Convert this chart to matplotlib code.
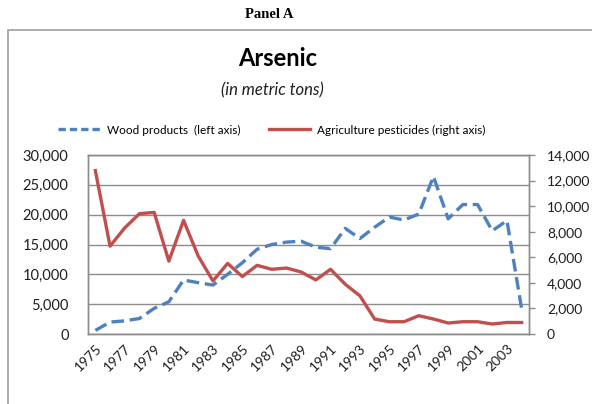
import matplotlib
matplotlib.use("Agg")
import matplotlib.pyplot as plt
from matplotlib.lines import Line2D
from matplotlib.patches import Rectangle
import numpy as np

plt.rcParams['font.family'] = ['Lato', 'DejaVu Sans']

# ── Colors ──
C_BLUE = '#4F81BD'
C_RED = '#C0504D'
C_GRID = '#8C8C8C'
C_TEXT = '#1F1F1F'

# ── Data ──
years = list(range(1975, 2005))
wood_products = [600, 2000, 2200, 2600, 4300, 5400, 9050, 8600, 8200, 10000,
                 11950, 14200, 15000, 15400, 15550, 14550, 14300, 17700, 16000, 17900,
                 19600, 19100, 20100, 26400, 19300, 21700, 21700, 17300, 19000, 4200]
ag_pesticides = [12780, 6870, 8300, 9410, 9510, 5700, 8890, 6090, 4150, 5520,
                 4490, 5370, 5060, 5160, 4850, 4230, 5060, 3890, 2980, 1170,
                 960, 960, 1430, 1170, 860, 960, 960, 780, 900, 900]
left_ticks = [0, 5000, 10000, 15000, 20000, 25000, 30000]
right_ticks = [0, 2000, 4000, 6000, 8000, 10000, 12000, 14000]

W, H = 592, 404
fig = plt.figure(figsize=(W / 100, H / 100), dpi=100)

# outer chart border (cropped at right/bottom)
fig.patches.append(Rectangle((8 / W, -0.2), 1.0, (H - 30) / H + 0.2,
                             transform=fig.transFigure, fill=False,
                             edgecolor='#A6A6A6', linewidth=1.3))

ax = fig.add_axes([88 / W, 1 - 334 / H, (529 - 88) / W, (334 - 155) / H])
ax2 = ax.twinx()

x = np.arange(len(years))
ax.plot(x, wood_products, color=C_BLUE, linewidth=2.4, dashes=(3.8, 1.7),
        zorder=3)
ax2.plot(x, ag_pesticides, color=C_RED, linewidth=2.4, zorder=3)

ax.set_xlim(-0.5, len(years) - 0.5)
ax.set_ylim(0, 30000)
ax2.set_ylim(0, 14000)
ax.set_yticks(left_ticks)
ax.set_yticklabels([f'{v:,}' for v in left_ticks])
ax2.set_yticks(right_ticks)
ax2.set_yticklabels([f'{v:,}' for v in right_ticks])

ax.set_xticks(x[::2])
ax.set_xticklabels([str(y) for y in years[::2]], rotation=45, ha='right',
                   va='top', rotation_mode='anchor')

ax.grid(axis='y', color=C_GRID, linewidth=1.0)
ax.set_axisbelow(True)
for a in (ax, ax2):
    for s in a.spines.values():
        s.set_color(C_GRID)
        s.set_linewidth(1.0)
ax.tick_params(axis='x', length=0, labelsize=10, colors=C_TEXT, pad=6)
ax.tick_params(axis='y', length=0, labelsize=10.5, colors=C_TEXT, pad=14)
ax2.tick_params(axis='y', length=4, width=1, color=C_GRID, labelsize=10,
                labelcolor=C_TEXT, pad=9)

# titles
fig.text(269 / W, 1 - 14 / H, 'Panel A', ha='center', va='center',
         fontsize=10.5, fontweight='bold', family='Liberation Serif', color='black')
fig.text(278 / W, 1 - 59 / H, 'Arsenic', ha='center', va='center',
         fontsize=17, fontweight='bold', color='black')
fig.text(272 / W, 1 - 90 / H, '(in metric tons)', ha='center', va='center',
         fontsize=12, style='italic', color=C_TEXT)

handles = [Line2D([], [], color=C_BLUE, linewidth=2.4, dashes=(2.2, 1.2)),
           Line2D([], [], color=C_RED, linewidth=2.4)]
fig.legend(handles, ['Wood products  (left axis)',
                     'Agriculture pesticides (right axis)'],
           loc='center', bbox_to_anchor=(272 / W, 1 - 130 / H), ncol=2,
           frameon=False, fontsize=8.5, handlelength=3.5, handletextpad=0.6,
           columnspacing=2.4)

fig.savefig('out.png', dpi=100, facecolor='white')
